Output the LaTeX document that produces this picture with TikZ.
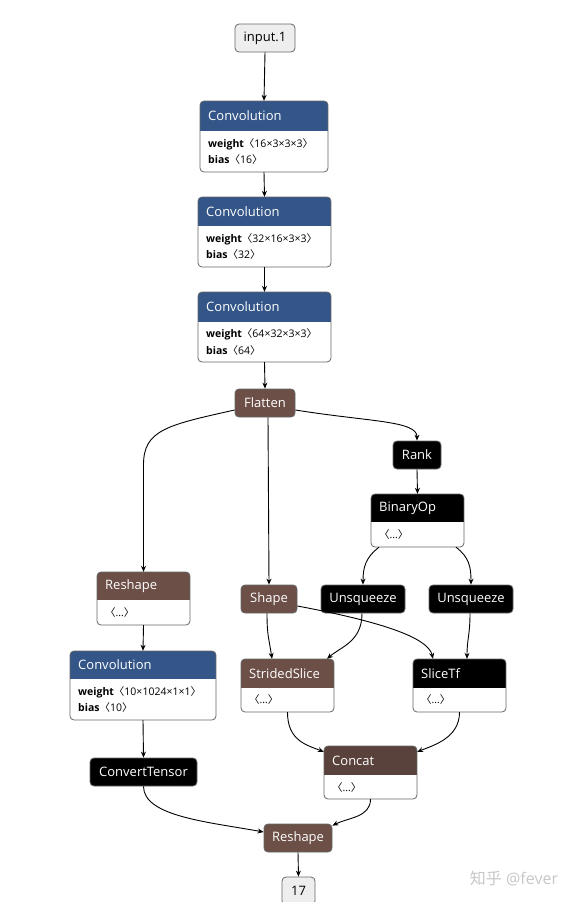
\documentclass[tikz,border=0pt]{standalone}
\usepackage{fontspec}
\setmainfont{Open Sans}
\newfontfamily\cjk{Noto Sans CJK SC}
\usetikzlibrary{arrows.meta,fit}
\definecolor{layerc}{RGB}{51,85,136}
\definecolor{shapec}{RGB}{108,79,71}
\definecolor{tensorc}{RGB}{89,66,59}
\definecolor{inputc}{RGB}{238,238,238}
\newcommand\lb{{\cjk 〈}}
\newcommand\rb{{\cjk 〉}}
\tikzset{
  boxline/.style={draw=black!60, line width=0.8pt, rounded corners=4pt},
  headtext/.style={text=white, inner sep=0pt, font=\fontsize{13}{15}\selectfont},
  bodytext/.style={text=black, inner sep=0pt, align=left, font=\fontsize{10.5}{16.5}\selectfont},
  simple/.style={draw=black!60, line width=0.8pt, rounded corners=4pt, minimum height=28pt, inner sep=0pt, text=white, font=\fontsize{13}{15}\selectfont},
  conn/.style={-{Stealth[length=6pt,width=5pt]}, line width=0.9pt, black},
}
% name, x1, ytop, x2, ymid, ybot, colour, title, body
\newcommand\opbox[9]{%
  \fill[white, rounded corners=4pt] (#2,#3) rectangle (#4,#6);
  \begin{scope}
    \clip[rounded corners=4pt] (#2,#3) rectangle (#4,#6);
    \fill[#7] (#2,#3) rectangle (#4,#5);
  \end{scope}
  \draw[boxline] (#2,#3) rectangle (#4,#6);
  \node[headtext,anchor=west] (#1-h) at ({#2+8},{(#3+#5)/2}) {#8};
  \node[bodytext,anchor=west] (#1-b) at ({#2+8},{(#5+#6)/2}) {#9};
  \node[fit={(#2,#3)(#4,#6)},inner sep=0pt] (#1) {};
}
\begin{document}
\begin{tikzpicture}[x=1pt,y=-1pt]
\useasboundingbox (0,0) rectangle (578,902);

% simple nodes
\node[simple, fill=inputc, text=black, minimum width=60pt] (input) at (265,38) {input.1};
\node[simple, fill=shapec, minimum width=60pt] (flatten) at (265,403) {Flatten};
\node[simple, fill=black, minimum width=48pt] (rank) at (417,455) {Rank};
\node[simple, fill=shapec, minimum width=56pt] (shape) at (269,599) {Shape};
\node[simple, fill=black, minimum width=84pt] (unsqL) at (363,599) {Unsqueeze};
\node[simple, fill=black, minimum width=84pt] (unsqR) at (471,599) {Unsqueeze};
\node[simple, fill=black, minimum width=107pt] (convert) at (143.5,772) {ConvertTensor};
\node[simple, fill=shapec, minimum width=68pt] (reshapeB) at (298,838) {Reshape};
\node[simple, fill=inputc, text=black, minimum width=33pt] (out) at (298.5,891) {17};

% boxes with bodies
\opbox{conv1}{200}{101}{328}{131}{172}{layerc}{Convolution}{\textbf{weight}\lb16×3×3×3\rb\\\textbf{bias}\lb16\rb}
\opbox{conv2}{198}{197}{331}{226}{267}{layerc}{Convolution}{\textbf{weight}\lb32×16×3×3\rb\\\textbf{bias}\lb32\rb}
\opbox{conv3}{198}{292}{331}{322}{362}{layerc}{Convolution}{\textbf{weight}\lb64×32×3×3\rb\\\textbf{bias}\lb64\rb}
\opbox{binop}{371}{494}{464}{522}{547}{black}{BinaryOp}{\lb…\rb}
\opbox{reshapeL}{97}{572}{190}{600}{625}{shapec}{Reshape}{\lb…\rb}
\opbox{conv4}{70}{651}{216}{679}{720}{layerc}{Convolution}{\textbf{weight}\lb10×1024×1×1\rb\\\textbf{bias}\lb10\rb}
\opbox{ss}{241}{659}{334}{688}{712}{shapec}{StridedSlice}{\lb…\rb}
\opbox{slice}{413}{659}{506}{688}{712}{black}{SliceTf}{\lb…\rb}
\opbox{concat}{324}{746}{417}{775}{799}{tensorc}{Concat}{\lb…\rb}

% watermark
\node[text=black!22, inner sep=0pt, font=\fontsize{16}{16}\selectfont] (wm) at (514,878) {{\cjk 知乎} @fever};

% connectors
\draw[conn] (input.south) -- (conv1.north);
\draw[conn] (conv1.south) -- (conv2.north);
\draw[conn] (conv2.south) -- (conv3.north);
\draw[conn] (conv3.south) -- (flatten.north);
\draw[conn] ([yshift=-7pt]flatten.west) .. controls +(-67,15) and +(0,-35) .. ([yshift=107pt]reshapeL.north) -- (reshapeL.north);
\draw[conn] ([xshift=3pt]flatten.south) -- (shape.north);
\draw[conn] ([yshift=-7pt]flatten.east) .. controls +(75,12) and +(0,-20) .. (rank.north);
\draw[conn] (rank.south) -- (binop.north);
\draw[conn] ([xshift=-38.5pt]binop.south) .. controls +(-13,10) and +(0,-18) .. (unsqL.north);
\draw[conn] ([xshift=38.5pt]binop.south) .. controls +(13,10) and +(0,-18) .. (unsqR.north);
\draw[conn] (reshapeL.south) -- (conv4.north);
\draw[conn] (conv4.south) -- (convert.north);
\draw[conn] ([xshift=-2pt]shape.south) .. controls +(0,22) and +(-3,-20) .. ([xshift=-15.5pt]ss.north);
\draw[conn] ([xshift=-1pt]unsqL.south) .. controls +(0,28) and +(14,-12) .. ([xshift=39.5pt]ss.north);
\draw[conn] ([yshift=-7pt]shape.east) .. controls +(80,15) and +(-5,-22) .. ([xshift=-26.5pt]slice.north);
\draw[conn] ([xshift=-1pt]unsqR.south) .. controls +(0,22) and +(0,-20) .. ([xshift=7.5pt]slice.north);
\draw[conn] (ss.south) .. controls +(0,28) and +(-18,-7) .. ([yshift=-6pt]concat.north west);
\draw[conn] (slice.south) .. controls +(0,25) and +(18,-7) .. ([yshift=-6pt]concat.north east);
\draw[conn] (convert.south) .. controls +(0,30) and +(-55,-10) .. ([yshift=6pt]reshapeB.west);
\draw[conn] (concat.south) .. controls +(0,18) and +(16,-8) .. ([yshift=-2pt]reshapeB.north east);
\draw[conn] (reshapeB.south) -- (out.north);
\end{tikzpicture}
\end{document}
